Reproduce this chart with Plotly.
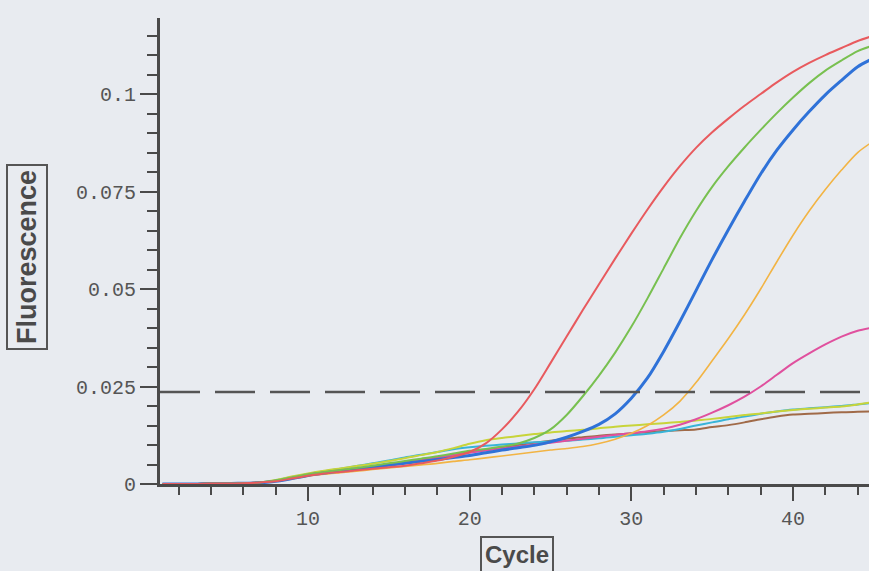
import plotly.graph_objects as go

cycles = list(range(1, 46))

red = [0, 0, 0, .0001, .0001, .0002, .0004, .0007, .0014, .0021,
       .0027, .0031, .0035, .0039, .0043, .0047, .0053, .0060, .0070, .0082,
       .0104, .0140, .0186, .0243, .0310, .0378, .0446, .0512, .0578, .0642,
       .0704, .0762, .0815, .0862, .0902, .0937, .0970, .1000, .1030, .1057,
       .1080, .1100, .1118, .1136, .1150]
green = [0, 0, 0, .0001, .0001, .0002, .0004, .0009, .0017, .0025,
         .0031, .0036, .0041, .0047, .0053, .0059, .0065, .0071, .0078, .0085,
         .0090, .0096, .0104, .0118, .0140, .0177, .0225, .0278, .0337, .0403,
         .0476, .0553, .0630, .0700, .0762, .0815, .0863, .0908, .0951, .0991,
         .1028, .1060, .1086, .1110, .1125]
blue = [0, 0, 0, .0001, .0001, .0002, .0003, .0007, .0014, .0022,
        .0028, .0033, .0038, .0043, .0048, .0053, .0058, .0063, .0068, .0073,
        .0080, .0087, .0093, .0099, .0108, .0120, .0135, .0153, .0180, .0220,
        .0272, .0340, .0416, .0496, .0576, .0652, .0725, .0795, .0856, .0908,
        .0955, .0998, .1035, .1070, .1092]
orange = [0, 0, 0, .0001, .0001, .0002, .0003, .0007, .0013, .0020,
          .0025, .0029, .0033, .0037, .0041, .0045, .0049, .0053, .0058, .0062,
          .0067, .0072, .0077, .0082, .0087, .0091, .0096, .0104, .0115, .0130,
          .0150, .0177, .0212, .0260, .0316, .0373, .0434, .0500, .0570, .0638,
          .0700, .0755, .0805, .0850, .0880]
magenta = [0, 0, 0, .0001, .0001, .0002, .0004, .0008, .0016, .0024,
           .0030, .0035, .0040, .0045, .0051, .0056, .0062, .0068, .0074, .0080,
           .0086, .0091, .0096, .0101, .0106, .0111, .0116, .0121, .0126, .0130,
           .0135, .0142, .0152, .0166, .0183, .0202, .0224, .0250, .0280, .0310,
           .0335, .0358, .0378, .0393, .0402]
lime = [0, 0, 0, .0001, .0001, .0002, .0004, .0010, .0019, .0027,
        .0034, .0040, .0046, .0052, .0059, .0066, .0074, .0082, .0092, .0103,
        .0112, .0118, .0123, .0128, .0132, .0136, .0139, .0143, .0147, .0150,
        .0153, .0156, .0159, .0163, .0167, .0172, .0177, .0181, .0186, .0190,
        .0193, .0196, .0199, .0204, .0210]
cyan = [0, 0, 0, .0001, .0001, .0002, .0004, .0009, .0018, .0026,
        .0033, .0039, .0046, .0053, .0060, .0068, .0075, .0082, .0089, .0094,
        .0098, .0101, .0104, .0107, .0109, .0111, .0114, .0117, .0121, .0125,
        .0129, .0134, .0141, .0150, .0158, .0166, .0173, .0180, .0186, .0191,
        .0194, .0197, .0200, .0204, .0208]
brown = [0, 0, 0, .0001, .0001, .0002, .0004, .0008, .0015, .0023,
         .0029, .0034, .0039, .0044, .0050, .0056, .0062, .0068, .0075, .0082,
         .0088, .0094, .0100, .0106, .0111, .0116, .0120, .0124, .0127, .0130,
         .0133, .0136, .0138, .0140, .0146, .0151, .0158, .0166, .0173, .0178,
         .0180, .0182, .0184, .0185, .0186]

threshold = 0.0236
y_tickvals = [0, 0.025, 0.05, 0.075, 0.1]
y_ticktext = ["0", "0.025", "0.05", "0.075", "0.1"]
x_tickvals = [10, 20, 30, 40]
x_ticktext = ["10", "20", "30", "40"]

series = [
    (brown, "#a06a48", 2),
    (cyan, "#38b4d8", 2),
    (lime, "#c8d43a", 2),
    (magenta, "#e0509e", 2),
    (orange, "#f2b444", 1.6),
    (blue, "#2f72d8", 3),
    (green, "#78c050", 2),
    (red, "#e85a5e", 2),
]

fig = go.Figure()
for vals, col, w in series:
    fig.add_trace(go.Scatter(x=cycles, y=vals, mode="lines",
                             line=dict(color=col, width=w, shape="spline",
                                       smoothing=0.8),
                             showlegend=False, hoverinfo="skip"))

fig.add_shape(type="line", xref="paper", x0=0, x1=1, yref="y",
              y0=threshold, y1=threshold,
              line=dict(color="#555555", width=2.5, dash="40px,15px"))

axis_col = "#4a4a4a"
tick_font = dict(family="Liberation Mono", size=20, color="#555555")

fig.update_layout(
    width=869, height=571,
    margin=dict(l=160, r=0, t=18, b=87),
    paper_bgcolor="#e8ebf0", plot_bgcolor="#e8ebf0",
    xaxis=dict(range=[0.85, 44.7], showgrid=False, zeroline=False,
               showline=True, linecolor=axis_col, linewidth=3,
               tickvals=x_tickvals, ticktext=x_ticktext,
               ticks="outside", ticklen=14, tickwidth=2, tickcolor=axis_col,
               tickfont=tick_font,
               minor=dict(tick0=0, dtick=2, ticks="outside", ticklen=8,
                          tickwidth=2, tickcolor=axis_col)),
    yaxis=dict(range=[0, 0.1195], showgrid=False, zeroline=False,
               showline=True, linecolor=axis_col, linewidth=3,
               tickvals=y_tickvals, ticktext=y_ticktext,
               ticks="outside", ticklen=17, tickwidth=2, tickcolor=axis_col,
               tickfont=tick_font,
               minor=dict(tick0=0, dtick=0.005, ticks="outside", ticklen=10,
                          tickwidth=2, tickcolor=axis_col)),
    annotations=[
        dict(text="<b>Fluorescence</b>", xref="paper", yref="paper",
             x=(27 - 160) / 709, y=(484 - 257) / 466, textangle=-90,
             showarrow=False, xanchor="center", yanchor="middle",
             font=dict(family="Liberation Sans", size=27, color="#4a4a4a"),
             bordercolor="#555555", borderwidth=2, borderpad=4),
        dict(text="<b>Cycle</b>", xref="paper", yref="paper",
             x=(517 - 160) / 709, y=(484 - 554) / 466,
             showarrow=False, xanchor="center", yanchor="middle",
             font=dict(family="Liberation Sans", size=24, color="#4a4a4a"),
             bordercolor="#555555", borderwidth=2, borderpad=3),
    ],
)

fig.write_html("out.html")
